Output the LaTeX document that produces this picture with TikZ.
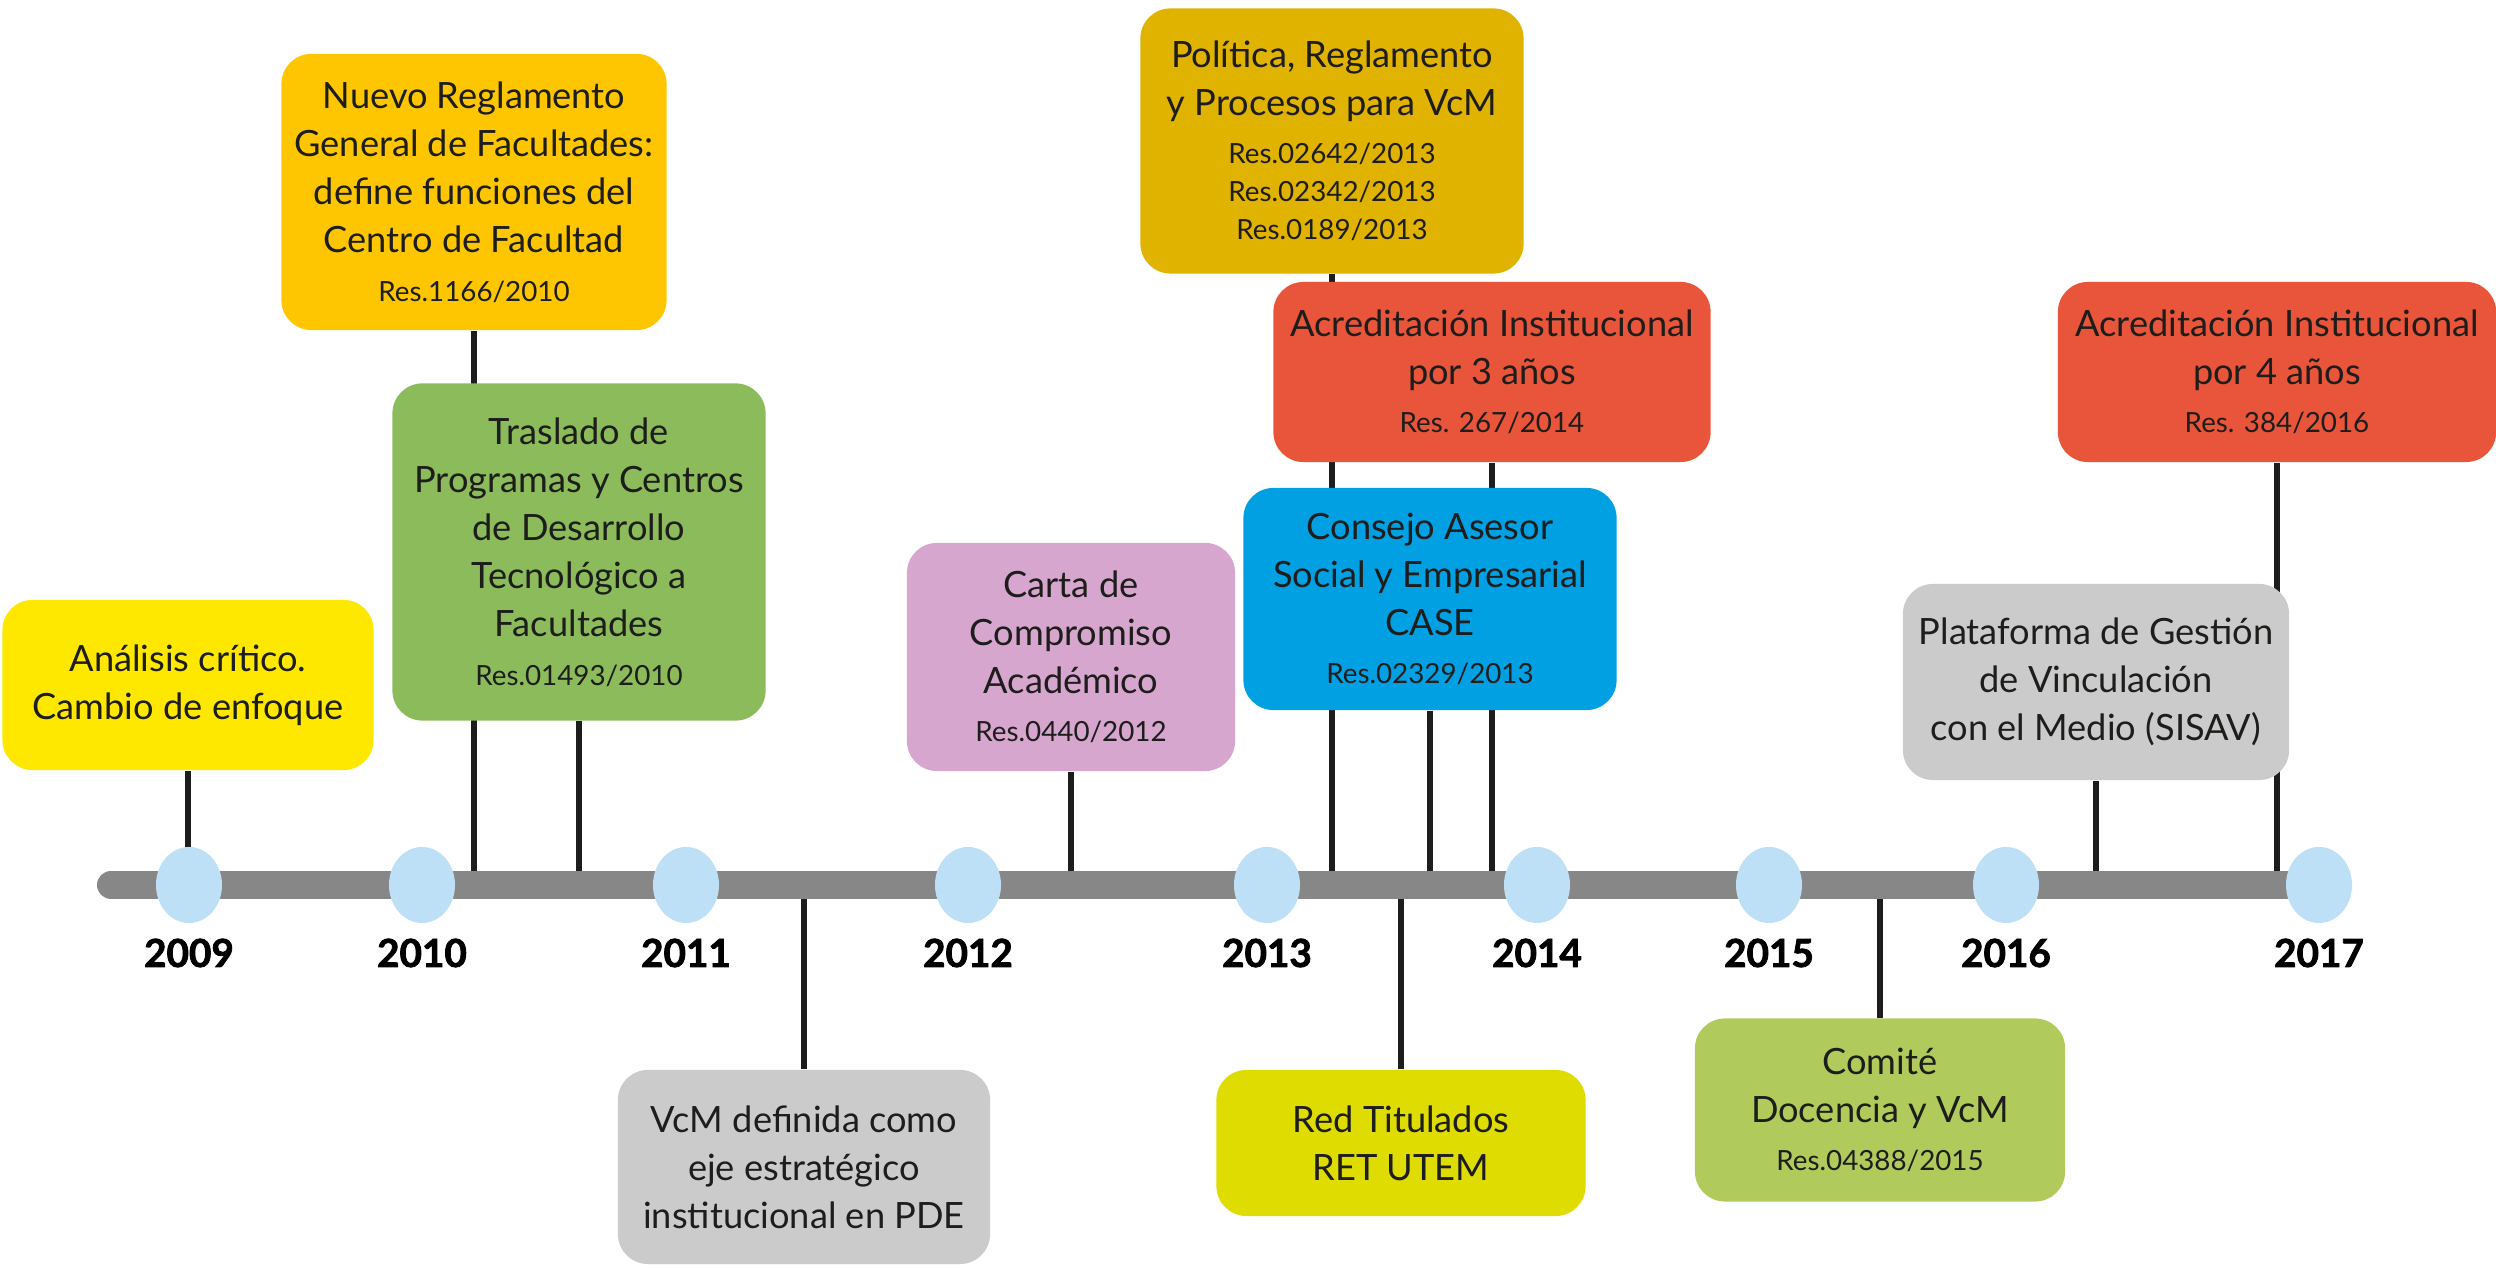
\documentclass[tikz,border=0pt]{standalone}
\usepackage{fontspec}
\setmainfont{Lato}
\newfontfamily\yearfamily{Lato}[BoldFeatures={FakeBold=2}]
\usetikzlibrary{shapes.geometric,backgrounds}

\definecolor{ink}{HTML}{1D1D1B}
\definecolor{bargray}{HTML}{878787}
\definecolor{dotblue}{HTML}{BDE0F6}
\definecolor{yellowev}{HTML}{FFE800}
\definecolor{goldev}{HTML}{FDC600}
\definecolor{greenev}{HTML}{8CBB5C}
\definecolor{grayev}{HTML}{CBCBCB}
\definecolor{pinkev}{HTML}{D7A6CE}
\definecolor{mustardev}{HTML}{E0B300}
\definecolor{redev}{HTML}{E8553B}
\definecolor{blueev}{HTML}{00A0E2}
\definecolor{limeev}{HTML}{DEDC00}
\definecolor{lightgreenev}{HTML}{B0CB5B}

\newcommand{\boxfont}{\fontsize{10.3}{13.7}\selectfont}
\newcommand{\resfont}{\fontsize{7.9}{10.8}\selectfont}
\newcommand{\yearfont}{\yearfamily\fontsize{11}{13}\selectfont\bfseries}

\tikzset{
  event/.style={rounded corners=0.3cm, inner sep=0pt, align=center, font=\boxfont, text=ink},
  link/.style={line width=1.7pt, draw=ink},
  yeardot/.style={ellipse, fill=dotblue, inner sep=0pt, minimum width=0.66cm, minimum height=0.76cm},
  yearlabel/.style={font=\yearfont, text=black},
}

\begin{document}
\begin{tikzpicture}[x=0.01cm, y=-0.01cm]
  \useasboundingbox (0,0) rectangle (2496,1268);
  %timeline
  \coordinate (barstart) at (111,885);
  \coordinate (barend) at (2319,885);
  \draw[line width=0.28cm, line cap=round, draw=bargray] (barstart) -- (barend);
  %years
  \foreach \x/\yr in {189/2009, 422/2010, 686/2011, 968/2012, 1267/2013,
                      1537/2014, 1769/2015, 2006/2016, 2319/2017}
  {
    \node[yeardot] (dot\yr) at (\x,885) {};
    \node[yearlabel] (year\yr) at (\x,953) {\yr};
  }
  %events above the line
  \node[event, fill=yellowev, minimum width=3.71cm, minimum height=1.70cm] (analisis) at (188,685)
    {Análisis crítico.\\Cambio de enfoque};
  \node[event, fill=goldev, minimum width=3.85cm, minimum height=2.76cm] (reglamento) at (474,192)
    {Nuevo Reglamento\\General de Facultades:\\define funciones del\\Centro de Facultad\\{\resfont Res.1166/2010}};
  \node[event, fill=greenev, minimum width=3.73cm, minimum height=3.37cm] (traslado) at (579,552)
    {Traslado de\\Programas y Centros\\de Desarrollo\\Tecnológico a\\Facultades\\{\resfont Res.01493/2010}};
  \node[event, fill=pinkev, minimum width=3.28cm, minimum height=2.28cm] (carta) at (1071,657)
    {Carta de\\Compromiso\\Académico\\{\resfont Res.0440/2012}};
  \node[event, fill=mustardev, minimum width=3.83cm, minimum height=2.65cm] (politica) at (1332,141)
    {Política, Reglamento\\y Procesos para VcM\\{\resfont Res.02642/2013}\\[-2.9pt]{\resfont Res.02342/2013}\\[-2.9pt]{\resfont Res.0189/2013}};
  \node[event, fill=redev, minimum width=4.37cm, minimum height=1.80cm] (acred3) at (1492,372)
    {Acreditación Institucional\\por 3 años\\{\resfont Res. 267/2014}};
  \node[event, fill=blueev, minimum width=3.73cm, minimum height=2.22cm] (case) at (1430,599)
    {Consejo Asesor\\Social y Empresarial\\CASE\\{\resfont Res.02329/2013}};
  \node[event, fill=grayev, minimum width=3.86cm, minimum height=1.96cm] (sisav) at (2096,682)
    {Plataforma de Gestión\\de Vinculación\\con el Medio (SISAV)};
  \node[event, fill=redev, minimum width=4.38cm, minimum height=1.80cm] (acred4) at (2277,372)
    {Acreditación Institucional\\por 4 años\\{\resfont Res. 384/2016}};
  %events below the line
  \node[event, fill=grayev, minimum width=3.72cm, minimum height=1.94cm] (vcm) at (804,1167)
    {VcM definida como\\eje estratégico\\institucional en PDE};
  \node[event, fill=limeev, minimum width=3.69cm, minimum height=1.46cm] (red) at (1401,1143)
    {Red Titulados\\RET UTEM};
  \node[event, fill=lightgreenev, minimum width=3.70cm, minimum height=1.83cm] (comite) at (1880,1110)
    {Comité\\Docencia y VcM\\{\resfont Res.04388/2015}};
  %links
  \begin{scope}[on background layer]
    \foreach \ev in {analisis, reglamento, traslado, carta, politica, acred3, case, sisav, acred4}
      \draw[link] (\ev.south) -- (\ev.south |- barstart);
    \foreach \ev in {vcm, red, comite}
      \draw[link] (\ev.north) -- (\ev.north |- barstart);
  \end{scope}
\end{tikzpicture}
\end{document}
